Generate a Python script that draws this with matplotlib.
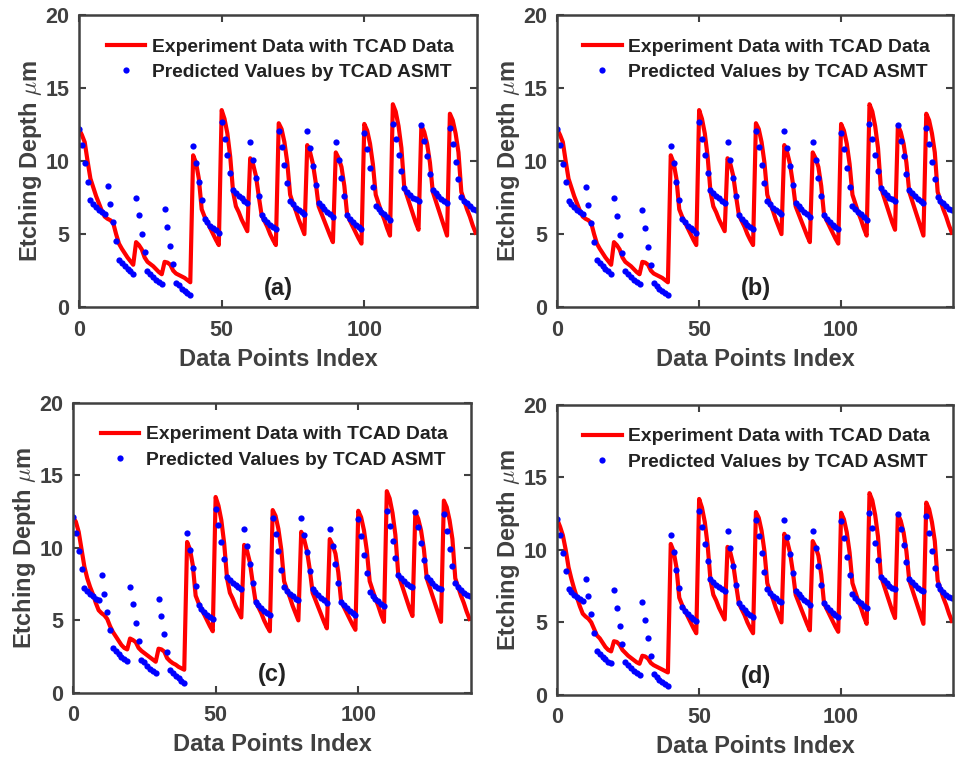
import numpy as np
import matplotlib
matplotlib.use('Agg')
from matplotlib import pyplot as plt

plt.rcParams['font.family'] = ['Liberation Sans', 'DejaVu Sans']
plt.rcParams['font.weight'] = 'bold'
plt.rcParams['mathtext.fontset'] = 'cm'

# groups 4..13 (index 40..139), shared by all panels
red_late = [10.4, 9.9, 8.8, 6.7, 6.2, 5.8, 5.4, 5.0, 4.6, 4.25,
            13.5, 12.9, 11.9, 10.3, 7.9, 6.9, 6.5, 6.0, 5.6, 5.2,
            10.2, 9.8, 9.0, 7.6, 6.3, 5.9, 5.5, 5.0, 4.6, 4.25,
            12.6, 12.2, 11.3, 9.9, 7.7, 7.1, 6.6, 6.0, 5.5, 5.0,
            11.1, 10.6, 9.8, 8.5, 6.9, 6.4, 5.9, 5.4, 4.9, 4.45,
            10.6, 10.2, 9.6, 8.3, 6.3, 5.9, 5.5, 5.1, 4.7, 4.35,
            12.55, 12.1, 11.2, 9.8, 7.7, 7.1, 6.5, 6.0, 5.4, 4.9,
            13.9, 13.4, 12.4, 10.9, 8.2, 7.6, 7.0, 6.4, 5.8, 5.3,
            12.45, 12.0, 11.2, 9.9, 7.9, 7.3, 6.7, 6.1, 5.5, 4.9,
            13.25, 12.8, 11.9, 10.6, 7.9, 7.3, 6.7, 6.2, 5.6, 5.1]
blue_late = [11.05, 9.85, 8.6, 7.35, 6.05, 5.8, 5.55, 5.4, 5.25, 5.1,
             12.65, 11.55, 10.4, 9.2, 8.0, 7.8, 7.6, 7.45, 7.3, 7.15,
             11.3, 10.1, 8.85, 7.6, 6.3, 6.05, 5.85, 5.65, 5.5, 5.35,
             12.05, 10.95, 9.75, 8.5, 7.3, 7.05, 6.8, 6.65, 6.5, 6.4,
             12.05, 10.9, 9.7, 8.4, 7.15, 6.95, 6.75, 6.55, 6.4, 6.2,
             11.3, 10.1, 8.85, 7.6, 6.3, 6.05, 5.85, 5.65, 5.5, 5.35,
             11.95, 10.8, 9.5, 8.25, 6.95, 6.7, 6.5, 6.35, 6.15, 6.0,
             12.55, 11.5, 10.45, 9.3, 8.15, 7.9, 7.7, 7.5, 7.4, 7.3,
             12.45, 11.4, 10.35, 9.15, 8.0, 7.8, 7.6, 7.4, 7.25, 7.15,
             12.3, 11.15, 9.95, 8.75, 7.55, 7.3, 7.1, 6.9, 6.75, 6.65]

# groups 0..3 (index 0..39), per panel
red_early_a = [12.2, 11.8, 11.3, 10.0, 8.8, 8.2, 7.6, 7.1, 6.6, 6.2,
               6.05, 5.95, 5.75, 5.0, 4.35, 4.0, 3.7, 3.4, 3.15, 2.9,
               4.45, 4.25, 3.95, 3.4, 3.1, 2.95, 2.8, 2.6, 2.4, 2.25,
               3.1, 3.05, 2.9, 2.5, 2.3, 2.2, 2.1, 2.0, 1.85, 1.7]
blue_early_a = [12.2, 11.1, 9.85, 8.6, 7.35, 7.05, 6.85, 6.65, 6.5, 6.35,
                8.3, 7.05, 5.8, 4.5, 3.25, 3.0, 2.8, 2.6, 2.45, 2.3,
                7.5, 6.3, 5.0, 3.75, 2.45, 2.25, 2.05, 1.85, 1.7, 1.55,
                6.75, 5.5, 4.2, 2.95, 1.65, 1.5, 1.25, 1.1, 0.95, 0.8]
red_early_b = red_early_a
blue_early_b = [12.2, 11.1, 9.8, 8.55, 7.3, 7.05, 6.85, 6.65, 6.5, 6.35,
                8.2, 7.0, 5.75, 4.45, 3.2, 3.0, 2.8, 2.6, 2.45, 2.3,
                7.45, 6.25, 4.95, 3.7, 2.45, 2.25, 2.05, 1.85, 1.7, 1.55,
                6.65, 5.45, 4.15, 2.9, 1.65, 1.45, 1.25, 1.1, 0.95, 0.8]
red_early_c = [12.1, 11.8, 11.1, 9.9, 8.7, 7.9, 7.3, 6.8, 6.2, 5.7,
               5.5, 5.35, 5.1, 4.6, 4.2, 3.9, 3.6, 3.3, 3.1, 3.0,
               3.75, 3.65, 3.5, 3.1, 2.9, 2.75, 2.6, 2.45, 2.3, 2.15,
               3.05, 3.0, 2.85, 2.4, 2.2, 2.05, 1.95, 1.8, 1.7, 1.6]
blue_early_c = [12.1, 11.0, 9.75, 8.55, 7.25, 7.05, 6.8, 6.65, 6.5, 6.4,
                8.1, 6.85, 5.6, 4.35, 3.1, 2.9, 2.7, 2.5, 2.35, 2.2,
                7.3, 6.1, 4.85, 3.55, 2.3, 2.1, 1.85, 1.65, 1.5, 1.4,
                6.5, 5.3, 4.05, 2.8, 1.55, 1.35, 1.15, 1.0, 0.85, 0.7]
red_early_d = [12.1, 11.6, 11.0, 10.0, 8.8, 8.0, 7.3, 6.7, 6.1, 5.6,
               5.4, 5.25, 5.0, 4.55, 4.1, 3.9, 3.6, 3.3, 3.1, 3.0,
               3.7, 3.65, 3.45, 3.1, 2.9, 2.7, 2.55, 2.4, 2.25, 2.15,
               2.7, 2.65, 2.5, 2.2, 2.05, 1.95, 1.85, 1.75, 1.65, 1.55]
blue_early_d = [12.1, 11.0, 9.75, 8.55, 7.3, 7.1, 6.9, 6.75, 6.6, 6.45,
                8.0, 6.8, 5.55, 4.3, 3.0, 2.8, 2.6, 2.45, 2.3, 2.2,
                7.2, 6.0, 4.75, 3.5, 2.25, 2.05, 1.85, 1.65, 1.5, 1.4,
                6.4, 5.15, 3.9, 2.7, 1.45, 1.25, 1.05, 0.9, 0.75, 0.62]

panels = ['(a)', '(b)', '(c)', '(d)']
red_early = [red_early_a, red_early_b, red_early_c, red_early_d]
blue_early = [blue_early_a, blue_early_b, blue_early_c, blue_early_d]
boxes = [[0.0824, 0.597, 0.415, 0.383],
         [0.581, 0.597, 0.413, 0.383],
         [0.0761, 0.0906, 0.415, 0.381],
         [0.581, 0.088, 0.413, 0.381]]

gray = '#404040'
fig = plt.figure(figsize=(9.59, 7.62), dpi=100)
for i in range(4):
    ax = fig.add_axes(boxes[i])
    red = red_early[i] + red_late
    blue = blue_early[i] + blue_late
    idx = np.arange(len(red))
    ax.plot(idx, red, color='red', lw=3.0, label='Experiment Data with TCAD Data')
    ax.plot(idx, blue, 'o', color='blue', ms=4.5, mec='none',
            label='Predicted Values by TCAD ASMT')
    ax.set_xlim(0, 139.5)
    ax.set_ylim(0, 20)
    ax.set_xticks([0, 50, 100])
    ax.set_yticks([0, 5, 10, 15, 20])
    ax.tick_params(direction='in', length=5, width=1.5, colors=gray,
                   labelsize=15.5, top=True, right=True)
    ax.tick_params(axis='x', pad=9)
    ax.tick_params(axis='y', pad=7)
    for s in ax.spines.values():
        s.set_linewidth(1.8)
        s.set_color(gray)
    ax.set_xlabel('Data Points Index', fontsize=17, fontweight='bold',
                  color=gray, labelpad=5)
    ax.set_ylabel('Etching Depth $\\mu$m', fontsize=17, fontweight='bold',
                  color=gray, labelpad=1)
    ax.text(70, 1.3, panels[i], ha='center', va='center', fontsize=17,
            fontweight='bold', color='#222222')
    ax.legend(loc='upper right', frameon=False, fontsize=13.9, handlelength=2.0,
              handletextpad=0.35, borderaxespad=0.9, labelspacing=0.4,
              borderpad=0.3, labelcolor='#222222')

plt.savefig('out.png', dpi=100)
